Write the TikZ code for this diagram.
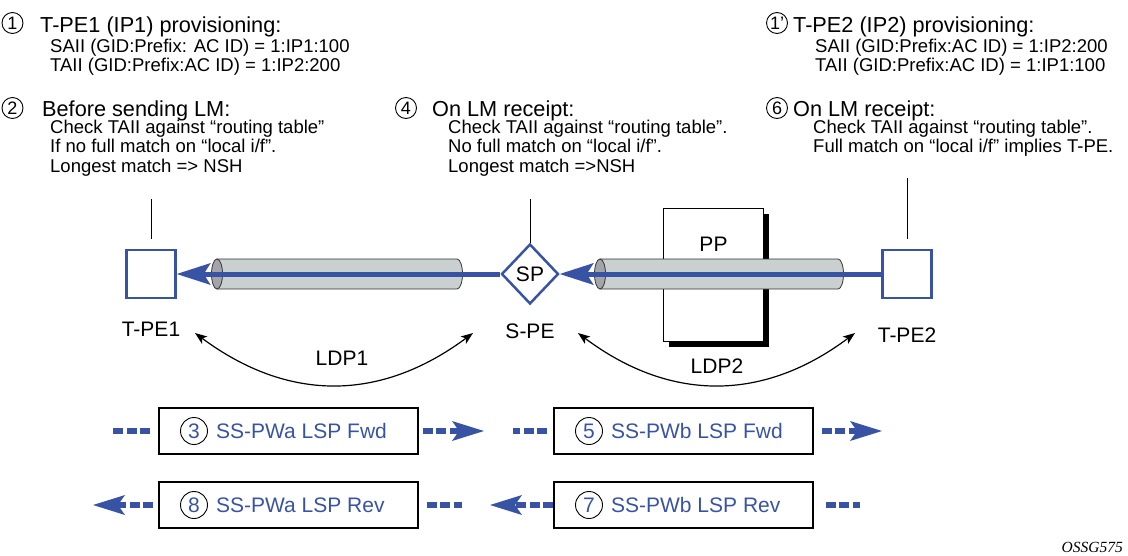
\documentclass[tikz,border=0pt]{standalone}
\usepackage{fontspec}
\setmainfont{Liberation Sans}
\newfontfamily\serifit{Liberation Serif}
\usepackage{xcolor}
\usetikzlibrary{positioning}
\usetikzlibrary{arrows.meta}
\usetikzlibrary{shapes.geometric}
\usetikzlibrary{shadows}
\definecolor{lspblue}{RGB}{57,83,164}
\definecolor{tubebody}{RGB}{202,207,208}
\definecolor{tubeend}{RGB}{163,165,170}

\begin{document}
\begin{tikzpicture}[x=1pt, y=-1pt, node distance=8pt,  num/.style={    draw,    circle,    line width=0.9pt,    inner sep=0pt,    minimum size=21pt,    font=\fontsize{18}{18}\selectfont  },  bignum/.style={    num,    minimum size=27pt,    text=lspblue,    font=\fontsize{21}{21}\selectfont  },  head/.style={anchor=base west, inner sep=0pt, font=\fontsize{21.7}{21.7}\selectfont},  body/.style={anchor=north west, inner sep=0pt, align=left, font=\fontsize{18.5}{19.5}\selectfont},  pe/.style={    draw=lspblue,    line width=2.5pt,    fill=white,    minimum width=49pt,    minimum height=48pt,    inner sep=0pt  },  sp/.style={    diamond,    draw=lspblue,    line width=2.5pt,    fill=white,    minimum width=57pt,    minimum height=60pt,    inner sep=0pt,    font=\fontsize{21}{21}\selectfont  },  pp/.style={    draw,    line width=1.2pt,    fill=white,    minimum width=100pt,    minimum height=133pt,    drop shadow={shadow xshift=5pt, shadow yshift=-5pt, fill=black, opacity=1}  },  lbl/.style={inner sep=0pt, font=\fontsize{21}{21}\selectfont},  lspbox/.style={draw, line width=1.5pt, minimum width=259pt, minimum height=46pt, inner sep=0pt},  lsptext/.style={inner sep=0pt, text=lspblue, font=\fontsize{21}{21}\selectfont},  tube/.style={draw=black!80, line width=0.8pt, fill=tubebody},  tubecap/.style={draw=black!80, line width=0.8pt, fill=tubeend},  lsp/.style={    draw=lspblue,    line width=5pt,    -{Stealth[length=34pt, width=22pt, inset=7pt, line width=0pt]}  },  lspdash/.style={draw=lspblue, line width=6pt, dash pattern=on 10pt off 3.5pt},  lsptip/.style={-{Stealth[length=32pt, width=20pt, inset=7pt, line width=0pt]}},  ldp/.style={    line width=1.2pt,    {Stealth[length=12pt, width=9pt, inset=3pt]}-{Stealth[length=12pt, width=9pt, inset=3pt]}  },  ref/.style={line width=0.8pt}]
		\useasboundingbox (0,0) rectangle (1128,555);
		% Steps
		\node[num] (n1) at (12.5,23) {1};
		\node[head] (h1) at (40,32) {T-PE1 (IP1) provisioning:};
		\node[body] at (50,38.5) {SAII (GID:Prefix: AC ID) = 1:IP1:100\\TAII (GID:Prefix:AC ID) = 1:IP2:200};
		\node[num] (n2) at (12.5,108) {2};
		\node[head] (h2) at (42,116) {Before sending LM:};
		\node[body] at (50,119.7) {Check TAII against “routing table”\\If no full match on “local i/f”.\\Longest match => NSH};
		\node[num] (n4) at (406,108) {4};
		\node[head] (h4) at (432,116) {On LM receipt:};
		\node[body] at (448,119.7) {Check TAII against “routing table”.\\No full match on “local i/f”.\\Longest match =>NSH};
		\node[num] (n1b) at (777,23) {1'};
		\node[head] (h1b) at (793,32) {T-PE2 (IP2) provisioning:};
		\node[body] at (815,38.5) {SAII (GID:Prefix:AC ID) = 1:IP2:200\\TAII (GID:Prefix:AC ID) = 1:IP1:100};
		\node[num] (n6) at (777,108) {6};
		\node[head] (h6) at (793,116) {On LM receipt:};
		\node[body] at (813,119.7) {Check TAII against “routing table”.\\Full match on “local i/f” implies T-PE.};
		% Nodes
		\node[pp] (PP) at (713.5,275) {};
		\node[pe] (TPE1) at (151,274) {};
		\node[sp] (SP) at (530,274) {SP};
		\node[pe] (TPE2) at (907,274) {};
		% Tubes
		\filldraw[tube] (217,259) -- (457,259) arc[start angle=-90, end angle=90, x radius=5.5, y radius=15] -- (217,289) -- cycle;
		\filldraw[tubecap] (217,274) ellipse[x radius=5.5, y radius=15];
		\filldraw[tube] (600,259) -- (838,259) arc[start angle=-90, end angle=90, x radius=5.5, y radius=15] -- (600,289) -- cycle;
		\filldraw[tubecap] (600,274) ellipse[x radius=5.5, y radius=15];
		% Arrows
		\draw[lsp] (SP.west) -- (TPE1.east);
		\draw[lsp] (TPE2.west) -- (SP.east);
		\coordinate (r2) at (151,199);
		\coordinate (r4) at (530,199);
		\coordinate (r6) at (907,178);
		\draw[ref] (r2) -- ([yshift=10pt]TPE1.north);
		\draw[ref] (r4) -- (SP.north);
		\draw[ref] (r6) -- ([yshift=10pt]TPE2.north);
		\coordinate (l1a) at (195,333);
		\coordinate (l1b) at (473,333);
		\coordinate (l2a) at (578,333);
		\coordinate (l2b) at (855,333);
		\draw[ldp] (l1a) .. controls (288,402) and (380,402) .. (l1b);
		\draw[ldp] (l2a) .. controls (670,402) and (763,402) .. (l2b);
		% Labels
		\node[lbl, below=29pt of PP.north] {PP};
		\node[lbl, below=23pt of TPE1] {T-PE1};
		\node[lbl, below=18pt of SP] {S-PE};
		\node[lbl, below=28pt of TPE2] {T-PE2};
		\node[lbl, anchor=base] at (342,365) {LDP1};
		\node[lbl, anchor=base] at (717,373) {LDP2};
		% LSP boxes
		\node[lspbox] (b3) at (288.5,431) {};
		\node[bignum] (n3) at (194,431) {3};
		\node[lsptext, right=of n3] {SS-PWa LSP Fwd};
		\node[lspbox] (b5) at (683.5,431) {};
		\node[bignum] (n5) at (589,431) {5};
		\node[lsptext, right=of n5] {SS-PWb LSP Fwd};
		\node[lspbox] (b8) at (288.5,505) {};
		\node[bignum] (n8) at (194,505) {8};
		\node[lsptext, right=of n8] {SS-PWa LSP Rev};
		\node[lspbox] (b7) at (683.5,505) {};
		\node[bignum] (n7) at (589,505) {7};
		\node[lsptext, right=of n7] {SS-PWb LSP Rev};
		% Dashed LSP segments
		\coordinate (d3l) at (113,431);
		\coordinate (d3r) at (484,431);
		\coordinate (d5l) at (513,431);
		\coordinate (d5r) at (882,431);
		\coordinate (d8l) at (93,505);
		\coordinate (d8r) at (462,505);
		\coordinate (d7l) at (490,505);
		\coordinate (d7r) at (860,505);
		\draw[lspdash] ([xshift=-8pt]b3.west) -- (d3l);
		\draw[lspdash, lsptip] ([xshift=4pt]b3.east) -- (d3r);
		\draw[lspdash] ([xshift=-6pt]b5.west) -- (d5l);
		\draw[lspdash, lsptip] ([xshift=8pt]b5.east) -- (d5r);
		\draw[lspdash, lsptip] ([xshift=-5pt]b8.west) -- (d8l);
		\draw[lspdash] ([xshift=8pt]b8.east) -- (d8r);
		\draw[lspdash, lsptip] (b7.west) -- (d7l);
		\draw[lspdash] ([xshift=12pt]b7.east) -- (d7r);
		\node[anchor=base east, inner sep=0pt, font=\serifit\itshape\fontsize{15.5}{15.5}\selectfont] (fig) at (1123,552) {OSSG575};
	\end{tikzpicture}
\end{document}
